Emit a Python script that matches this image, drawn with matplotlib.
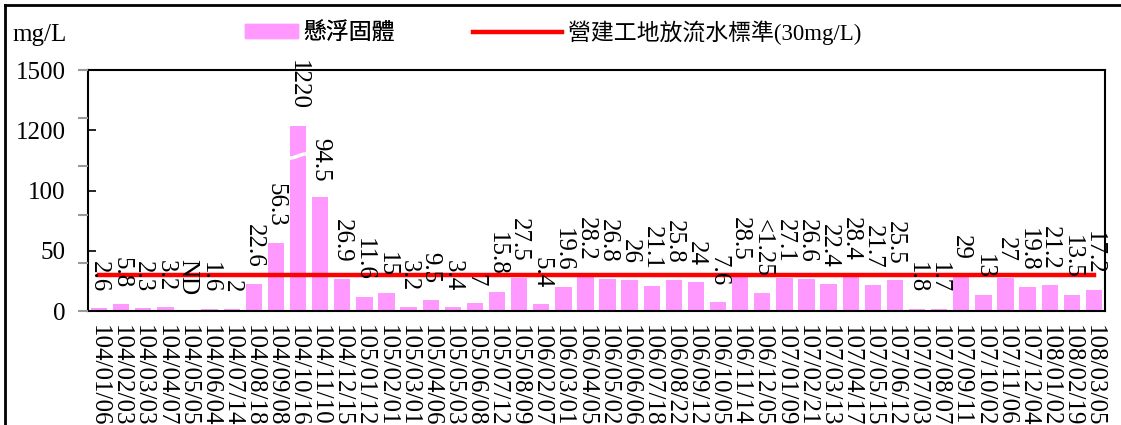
"""
Suspended solids (懸浮固體) measured on site, compared with the construction
site discharge limit of 30 mg/L. The y axis is broken between 100 and 1200.
"""

# Import modules and packages
import numpy as np
from matplotlib import pyplot as plt
from matplotlib.lines import Line2D
from matplotlib.patches import Patch

# Data
dates = ['104/01/06', '104/02/03', '104/03/03', '104/04/07', '104/05/05',
         '104/06/04', '104/07/14', '104/08/18', '104/09/08', '104/10/16',
         '104/11/10', '104/12/15', '105/01/12', '105/02/01', '105/03/01',
         '105/04/06', '105/05/03', '105/06/08', '105/07/12', '105/08/09',
         '106/02/07', '106/03/01', '106/04/05', '106/05/02', '106/06/06',
         '106/07/18', '106/08/22', '106/09/12', '106/10/05', '106/11/14',
         '106/12/05', '107/01/09', '107/02/21', '107/03/13', '107/04/17',
         '107/05/15', '107/06/12', '107/07/03', '107/08/07', '107/09/11',
         '107/10/02', '107/11/06', '107/12/04', '108/01/02', '108/02/19',
         '108/03/05']
value_labels = ['2.6', '5.8', '2.3', '3.2', 'ND', '1.6', '2', '22.6', '56.3',
                '1220', '94.5', '26.9', '11.6', '15', '3.2', '9.5', '3.4', '7',
                '15.8', '27.5', '5.4', '19.6', '28.2', '26.8', '26', '21.1',
                '25.8', '24', '7.6', '28.5', '<1.25', '27.1', '26.6', '22.4',
                '28.4', '21.7', '25.5', '1.8', '1.7', '29', '13', '27', '19.8',
                '21.2', '13.5', '17.2']
# bar heights as drawn (ND drawn as 0, the "<1.25" bar is drawn at about 15)
ss_values = [2.6, 5.8, 2.3, 3.2, 0, 1.6, 2, 22.6, 56.3,
             1220, 94.5, 26.9, 11.6, 15, 3.2, 9.5, 3.4, 7,
             15.8, 27.5, 5.4, 19.6, 28.2, 26.8, 26, 21.1,
             25.8, 24, 7.6, 28.5, 15, 27.1, 26.6, 22.4,
             28.4, 21.7, 25.5, 1.8, 1.7, 29, 13, 27, 19.8,
             21.2, 13.5, 17.2]
limit = 30
y_ticks = [0, 50, 100, 1200, 1500]

# broken axis: real values -> drawn position
knots_real = [-1000, 0, 100, 1200, 1500, 100000]
knots_draw = [-1000, 0, 100, 150, 200, 200 + (100000 - 1500) / 6]


def forward(v):
    return np.interp(v, knots_real, knots_draw)


def inverse(v):
    return np.interp(v, knots_draw, knots_real)


PINK = '#FF99FF'
RED = '#FF0000'
FS = 18

plt.rcParams['font.family'] = ['Liberation Serif', 'Noto Sans CJK TC']

fig = plt.figure(figsize=(11.21, 4.25), dpi=100)
ax = fig.add_axes([88 / 1121, 1 - 311 / 425, (1105 - 88) / 1121, (311 - 70) / 425])

x = np.arange(len(dates))
ax.bar(x, ss_values, width=0.74, color=PINK, zorder=2)
ax.plot(x, [limit] * len(x), color=RED, lw=3.2, zorder=3)

ax.set_yscale('function', functions=(forward, inverse))
ax.set_ylim(0, 1500)
ax.set_xlim(-0.5, len(dates) - 0.5)
ax.set_yticks(y_ticks)
ax.set_yticklabels([str(t) for t in y_ticks], fontsize=FS)
ax.minorticks_off()
ax.tick_params(axis='y', direction='in', length=6, width=1.2, pad=16)
ax.set_xticks(x)
ax.set_xticklabels(dates, rotation=-90, fontsize=FS)
ax.tick_params(axis='x', length=0, pad=10)
for s in ax.spines.values():
    s.set_linewidth(1.5)

# value labels above the bars
for i, (v, t) in enumerate(zip(ss_values, value_labels)):
    ax.annotate(t, (i, v), xytext=(0, 11.5), textcoords='offset points',
                rotation=-90, ha='center', va='bottom', fontsize=FS,
                annotation_clip=False)

# white break mark across the tall bar
big = int(np.argmax(ss_values))
bx = np.linspace(big - 0.4, big + 0.4, 20)
ax.plot(bx, 730 + 40 * np.sin((bx - big) * np.pi * 1.2), color='white',
        lw=2.5, zorder=4)

# faint grey tick set of the overlaid 0-1500 axis
ax2 = fig.add_axes(ax.get_position(), frameon=False)
ax2.set_ylim(0, 1500)
ax2.set_yticks(np.arange(0, 1501, 300))
ax2.set_yticklabels([])
ax2.set_xticks([])
ax2.tick_params(axis='y', direction='out', length=7, width=1.5, color='#999999')

fig.text(12 / 1121, 1 - 35 / 425, 'mg/L', fontsize=FS, va='center')

leg1 = fig.legend(handles=[Patch(color=PINK, label='懸浮固體')],
                  loc='center left', bbox_to_anchor=(245 / 1121, 1 - 33 / 425),
                  frameon=False, fontsize=16.5, handlelength=2.3, handleheight=0.55,
                  handletextpad=0.25, borderpad=0, borderaxespad=0)
fig.add_artist(leg1)
fig.legend(handles=[Line2D([], [], color=RED, lw=3.2, label='營建工地放流水標準(30mg/L)')],
           loc='center left', bbox_to_anchor=(473 / 1121, 1 - 33 / 425),
           frameon=False, fontsize=16.5, handlelength=3.9,
           handletextpad=0.25, borderpad=0, borderaxespad=0)

# outer chart frame (top and left edges)
fig.add_artist(Line2D([5 / 1121, 1], [1 - 5 / 425] * 2, color='black', lw=2))
fig.add_artist(Line2D([5 / 1121] * 2, [0, 1 - 5 / 425], color='black', lw=2))

fig.savefig('out.png', dpi=100)
